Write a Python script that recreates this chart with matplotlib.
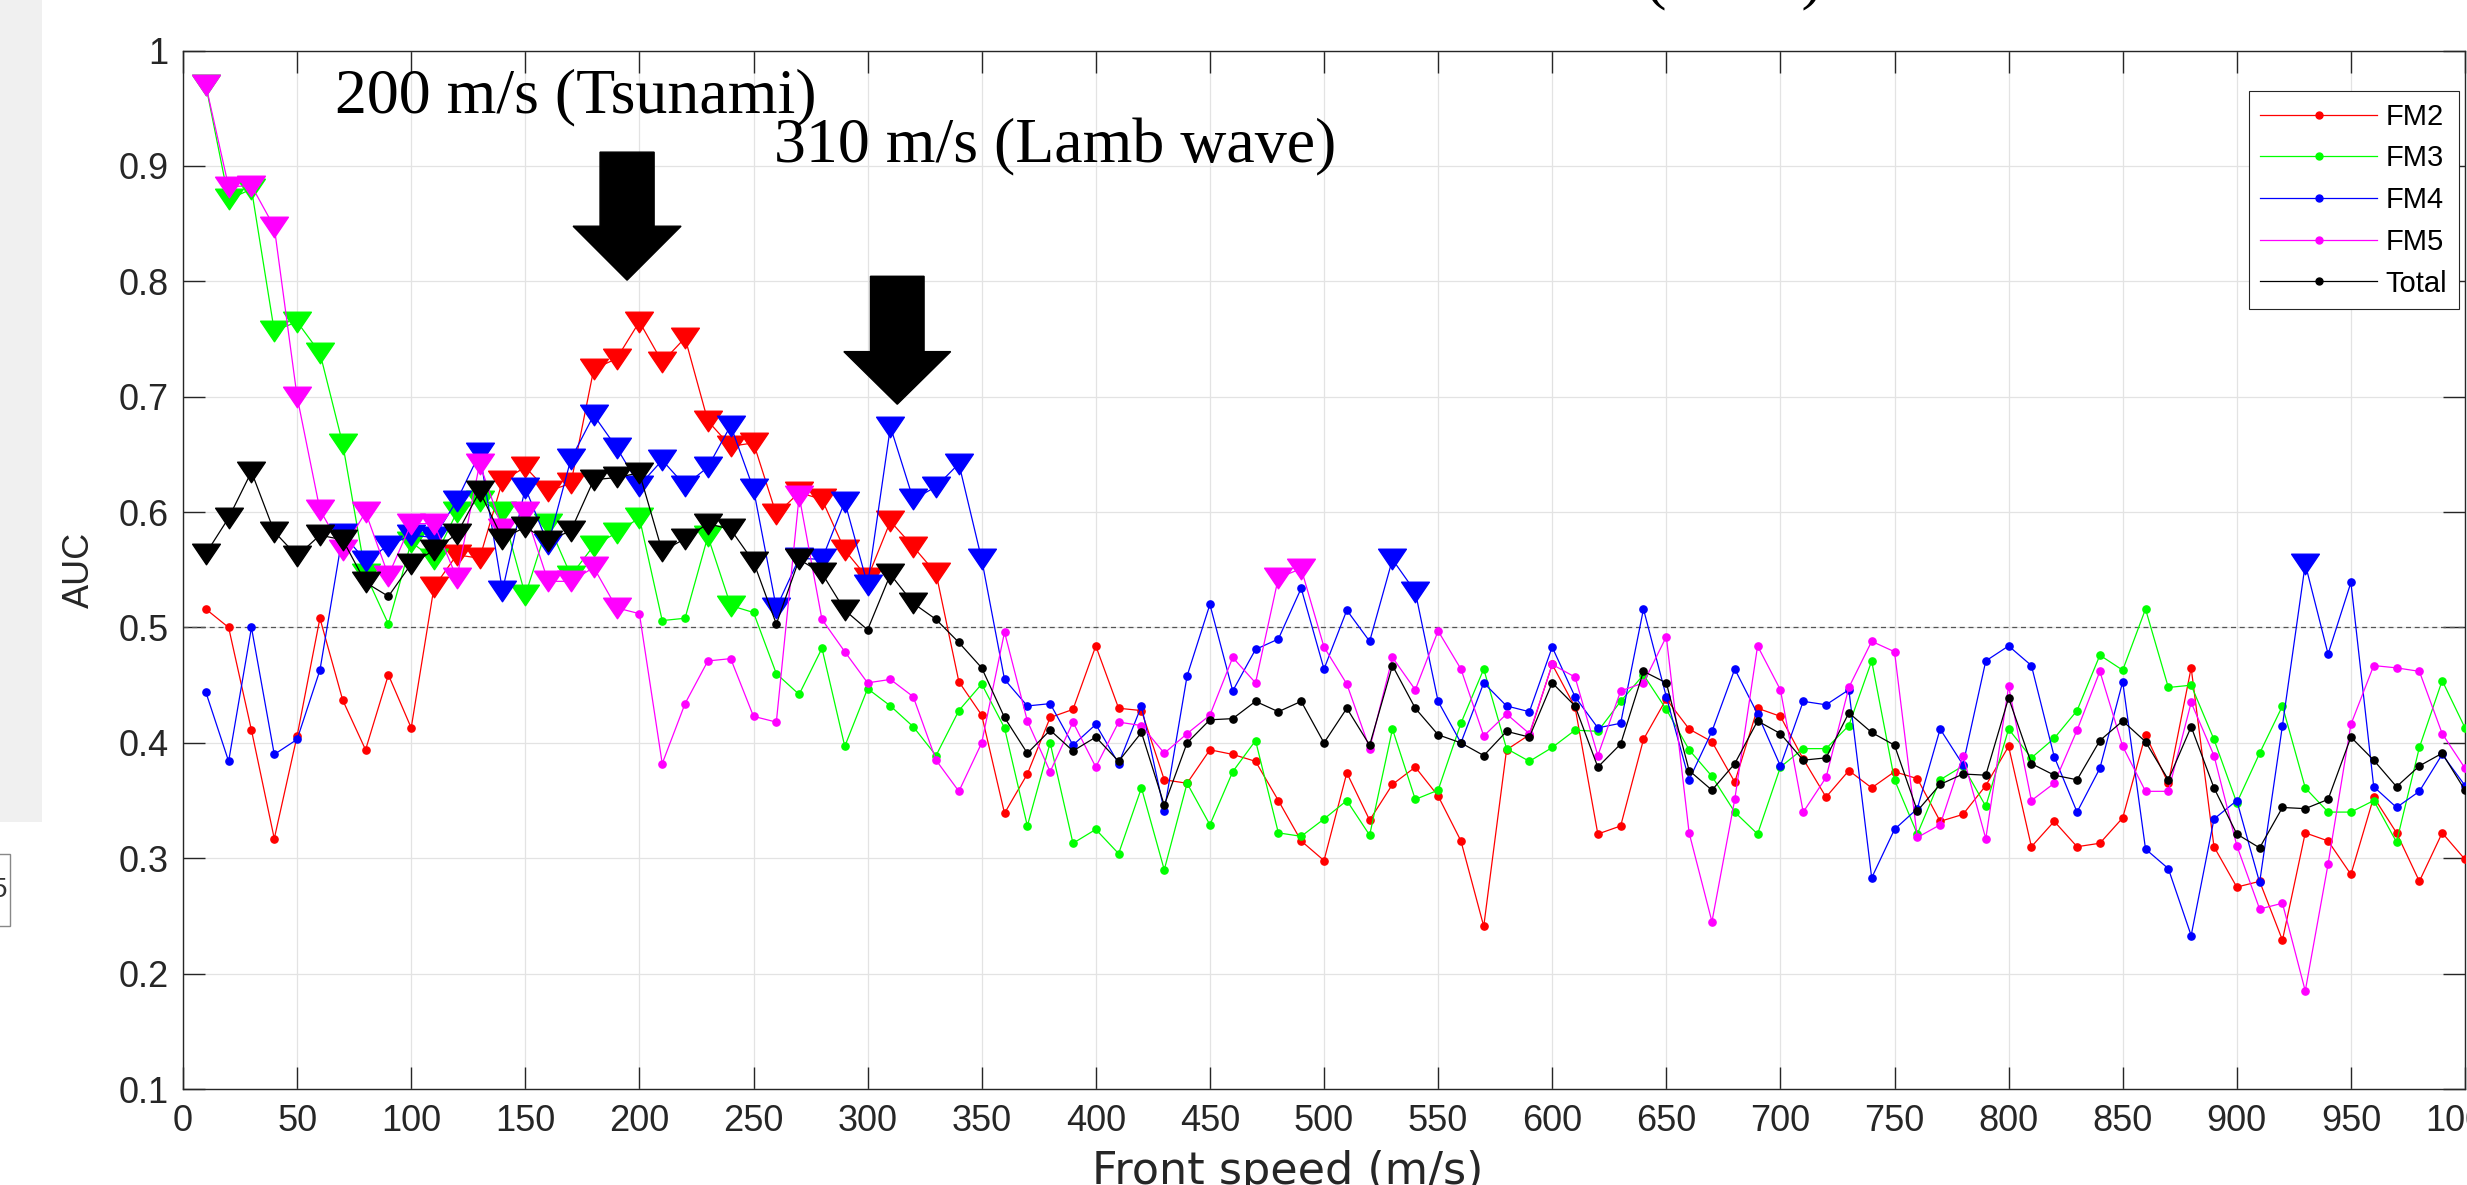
import numpy as np
import matplotlib
matplotlib.use("Agg")
from matplotlib import pyplot as plt
from matplotlib.path import Path
from matplotlib.patches import FancyArrow, Rectangle
from matplotlib.lines import Line2D
from matplotlib.ticker import FormatStrFormatter

# front speed (m/s), one value every 10 m/s
speed = np.array(list(range(10, 1010, 10)))

fm2 = [0.516, 0.500, 0.411, 0.317, 0.406, 0.508, 0.437, 0.394, 0.459, 0.413,
       0.535, 0.563, 0.560, 0.627, 0.639, 0.618, 0.625, 0.724, 0.733, 0.765,
       0.730, 0.751, 0.679, 0.657, 0.660, 0.598, 0.617, 0.611, 0.567, 0.543,
       0.592, 0.570, 0.547, 0.453, 0.424, 0.339, 0.373, 0.422, 0.429, 0.484,
       0.430, 0.428, 0.368, 0.365, 0.394, 0.390, 0.384, 0.350, 0.315, 0.298,
       0.374, 0.333, 0.364, 0.379, 0.354, 0.315, 0.241, 0.394, 0.407, 0.468,
       0.431, 0.321, 0.328, 0.403, 0.438, 0.412, 0.401, 0.366, 0.430, 0.423,
       0.386, 0.353, 0.376, 0.361, 0.375, 0.369, 0.332, 0.338, 0.363, 0.397,
       0.310, 0.332, 0.310, 0.313, 0.335, 0.407, 0.365, 0.465, 0.310, 0.275,
       0.280, 0.229, 0.322, 0.315, 0.286, 0.353, 0.322, 0.280, 0.322, 0.299]

fm3 = [0.970, 0.871, 0.880, 0.757, 0.765, 0.738, 0.659, 0.546, 0.503, 0.574,
       0.559, 0.600, 0.610, 0.600, 0.528, 0.590, 0.545, 0.571, 0.582, 0.595,
       0.506, 0.508, 0.579, 0.519, 0.513, 0.460, 0.442, 0.482, 0.397, 0.447,
       0.432, 0.414, 0.389, 0.428, 0.451, 0.413, 0.328, 0.400, 0.313, 0.325,
       0.304, 0.361, 0.290, 0.365, 0.329, 0.375, 0.402, 0.322, 0.319, 0.334,
       0.350, 0.320, 0.412, 0.351, 0.359, 0.417, 0.464, 0.395, 0.384, 0.396,
       0.411, 0.410, 0.436, 0.459, 0.429, 0.394, 0.371, 0.340, 0.321, 0.379,
       0.395, 0.395, 0.415, 0.471, 0.368, 0.321, 0.368, 0.380, 0.345, 0.412,
       0.387, 0.404, 0.428, 0.476, 0.463, 0.516, 0.448, 0.450, 0.403, 0.348,
       0.391, 0.432, 0.361, 0.340, 0.340, 0.350, 0.314, 0.396, 0.454, 0.413]

fm4 = [0.444, 0.384, 0.500, 0.390, 0.403, 0.463, 0.581, 0.558, 0.571, 0.580,
       0.578, 0.610, 0.651, 0.532, 0.621, 0.572, 0.646, 0.684, 0.656, 0.623,
       0.645, 0.623, 0.639, 0.675, 0.620, 0.517, 0.560, 0.559, 0.609, 0.537,
       0.674, 0.611, 0.622, 0.642, 0.559, 0.455, 0.432, 0.434, 0.398, 0.416,
       0.382, 0.432, 0.341, 0.458, 0.520, 0.445, 0.481, 0.490, 0.534, 0.464,
       0.515, 0.488, 0.559, 0.531, 0.436, 0.400, 0.452, 0.432, 0.427, 0.483,
       0.440, 0.413, 0.417, 0.516, 0.440, 0.368, 0.410, 0.464, 0.425, 0.380,
       0.436, 0.433, 0.446, 0.283, 0.325, 0.343, 0.412, 0.381, 0.471, 0.484,
       0.467, 0.388, 0.340, 0.378, 0.453, 0.308, 0.291, 0.233, 0.334, 0.350,
       0.279, 0.415, 0.555, 0.477, 0.539, 0.362, 0.344, 0.358, 0.390, 0.363]

fm5 = [0.970, 0.882, 0.883, 0.847, 0.700, 0.602, 0.567, 0.600, 0.545, 0.590,
       0.590, 0.543, 0.642, 0.585, 0.600, 0.540, 0.540, 0.552, 0.517, 0.512,
       0.382, 0.434, 0.471, 0.473, 0.423, 0.418, 0.614, 0.507, 0.479, 0.452,
       0.455, 0.440, 0.385, 0.358, 0.400, 0.496, 0.419, 0.375, 0.418, 0.379,
       0.418, 0.415, 0.391, 0.408, 0.424, 0.474, 0.452, 0.543, 0.551, 0.483,
       0.451, 0.395, 0.474, 0.446, 0.497, 0.464, 0.406, 0.425, 0.408, 0.468,
       0.457, 0.389, 0.445, 0.452, 0.492, 0.322, 0.245, 0.351, 0.484, 0.446,
       0.340, 0.370, 0.448, 0.488, 0.479, 0.318, 0.329, 0.389, 0.317, 0.449,
       0.350, 0.365, 0.411, 0.462, 0.397, 0.358, 0.358, 0.435, 0.389, 0.311,
       0.256, 0.261, 0.185, 0.295, 0.416, 0.467, 0.465, 0.462, 0.408, 0.378]

total = [0.564, 0.595, 0.635, 0.583, 0.562, 0.580, 0.576, 0.539, 0.527, 0.555,
         0.567, 0.581, 0.618, 0.577, 0.587, 0.575, 0.584, 0.628, 0.630, 0.634,
         0.566, 0.577, 0.590, 0.585, 0.557, 0.503, 0.559, 0.547, 0.515, 0.498,
         0.546, 0.521, 0.507, 0.487, 0.465, 0.422, 0.391, 0.411, 0.393, 0.405,
         0.384, 0.409, 0.346, 0.400, 0.420, 0.421, 0.436, 0.427, 0.436, 0.400,
         0.430, 0.398, 0.467, 0.430, 0.407, 0.400, 0.389, 0.410, 0.405, 0.452,
         0.432, 0.379, 0.399, 0.462, 0.452, 0.376, 0.359, 0.382, 0.419, 0.408,
         0.385, 0.387, 0.426, 0.409, 0.398, 0.341, 0.364, 0.373, 0.372, 0.439,
         0.382, 0.372, 0.368, 0.402, 0.419, 0.401, 0.368, 0.414, 0.361, 0.321,
         0.309, 0.344, 0.343, 0.351, 0.405, 0.385, 0.362, 0.380, 0.391, 0.359]

# speeds drawn with a big triangle (significant points)
fm2_sig = list(range(110, 340, 10))
fm3_sig = list(range(10, 90, 10)) + list(range(100, 210, 10)) + [230, 240]
fm4_sig = list(range(70, 360, 10)) + [530, 540, 930]
fm5_sig = list(range(10, 200, 10)) + [270, 480, 490]
total_sig = list(range(10, 90, 10)) + list(range(100, 260, 10)) + [270, 280, 290, 310, 320]

labels = ["FM2", "FM3", "FM4", "FM5", "Total"]
colors = ["#ff0000", "#00ff00", "#0000ff", "#ff00ff", "#000000"]

plt.rcParams['font.family'] = ['Liberation Sans', 'DejaVu Sans']

fig = plt.figure(figsize=(24.67, 11.85), dpi=100)
ax = fig.add_axes([0.07418, 0.08101, 0.92501, 0.87629])

tri = Path([(-1, 0.74), (1, 0.74), (0, -0.74), (-1, 0.74)],
           [Path.MOVETO, Path.LINETO, Path.LINETO, Path.CLOSEPOLY])

for vals, sig, c in zip([fm2, fm3, fm4, fm5, total],
                        [fm2_sig, fm3_sig, fm4_sig, fm5_sig, total_sig], colors):
    vals = np.array(vals)
    ax.plot(speed, vals, '-', color=c, lw=0.9, marker='o', ms=5.2, mec=c, mfc=c, zorder=3)
    m = np.isin(speed, sig)
    ax.plot(speed[m], vals[m], ls='none', marker=tri, ms=20, color=c, zorder=3)

ax.axhline(0.5, color='#555555', ls='--', lw=0.9, dashes=(4, 3), zorder=2)

ax.set_xlim(0, 1000)
ax.set_ylim(0.1, 1)
ax.set_xticks(range(0, 1001, 50))
ax.set_yticks(np.arange(0.1, 1.01, 0.1))
ax.yaxis.set_major_formatter(FormatStrFormatter('%g'))
ax.grid(True, color='#e3e3e3', lw=0.9, zorder=0)
ax.set_axisbelow(True)
ax.tick_params(direction='in', length=16, width=1, top=True, right=True,
               labelsize=26, pad=10.5, colors='#262626')
for s in ax.spines.values():
    s.set_color('#262626')
    s.set_linewidth(1)

ax.set_ylabel("AUC", fontsize=26, color='#262626')
ax.yaxis.set_label_coords(-0.0377, 0.5)
ax.set_xlabel("Front speed (m/s)", fontsize=32, family='DejaVu Sans', color='#262626')
ax.xaxis.set_label_coords(0.4843, -0.0590)

handles = [Line2D([0], [0], color=c, lw=0.9, marker='o', ms=5) for c in colors]
leg = ax.legend(handles, labels, loc='upper right', bbox_to_anchor=(0.9974, 0.961),
                fontsize=21, labelspacing=0.47, borderpad=0.4, handlelength=4.0,
                handletextpad=0.3, borderaxespad=0, fancybox=False,
                edgecolor='#262626', framealpha=1)
leg.get_frame().set_linewidth(0.8)

# annotations
ax.text(66.6, 0.946, "200 m/s (Tsunami)", family='Liberation Serif', fontsize=46,
        va='baseline', zorder=6)
ax.text(259, 0.903, "310 m/s (Lamb wave)", family='Liberation Serif', fontsize=46,
        va='baseline', zorder=6)
ax.add_patch(FancyArrow(194.6, 0.912, 0, -0.111, width=23.7, head_width=47.3,
                        head_length=0.0468, length_includes_head=True,
                        color='k', zorder=6))
ax.add_patch(FancyArrow(313, 0.8044, 0, -0.1109, width=23.5, head_width=46.8,
                        head_length=0.0456, length_includes_head=True,
                        color='k', zorder=6))

# title mostly outside the picture (cropped)
fig.text(0.7387, 1.0030, "Detection result of each FM and Total (AUC)",
         family='Liberation Serif', fontsize=46, ha='right', va='baseline')

# cropped pieces of the window at left
fig.patches.append(Rectangle((0, 1 - 822 / 1185), 42 / 2467, 822 / 1185,
                             transform=fig.transFigure, facecolor='#f0f0f0',
                             edgecolor='none', zorder=0))
fig.patches.append(Rectangle((-0.002, 1 - 926 / 1185), 15 / 2467, 72 / 1185,
                             transform=fig.transFigure, facecolor='white',
                             edgecolor='#888888', lw=1, zorder=1))
fig.text(0.0, 1 - 890 / 1185, "5", fontsize=20, ha='center', va='center', color='#333333')

fig.savefig("out.png", dpi=100)
